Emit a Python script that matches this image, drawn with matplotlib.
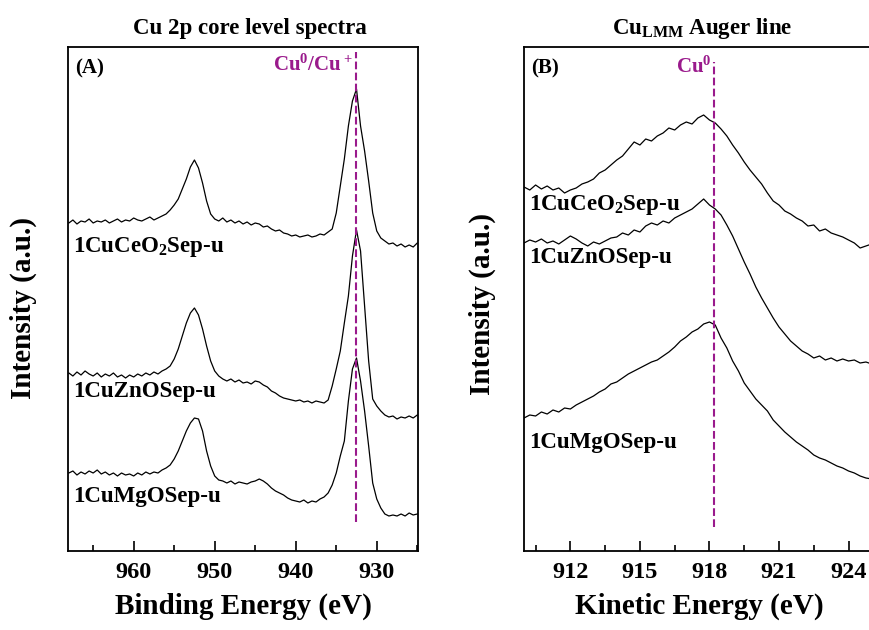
import numpy as np
import matplotlib
matplotlib.use('Agg')
from matplotlib import pyplot as plt
from matplotlib.ticker import MultipleLocator

plt.rcParams['font.family'] = ['Liberation Serif', 'DejaVu Serif']
plt.rcParams['font.weight'] = 'bold'
plt.rcParams['axes.labelweight'] = 'bold'
plt.rcParams['mathtext.default'] = 'regular'

# ---- panel A: Cu 2p, binding energy grid (eV) ----
be = np.arange(968.0, 924.9, -0.5)
cu2p_ceo2 = [328, 331, 327, 330, 329, 332, 328, 330, 329, 331, 328, 330, 332, 329, 331, 330,
             333, 331, 330, 332, 334, 331, 333, 335, 337, 341, 346, 352, 362, 372, 384, 391,
             383, 368, 350, 337, 332, 330, 333, 329, 331, 328, 330, 327, 329, 326, 328, 327,
             324, 325, 322, 320, 321, 318, 317, 315, 316, 314, 315, 316, 314, 315, 317, 316,
             319, 322, 338, 365, 392, 425, 450, 462, 425, 400, 370, 338, 320, 313, 310, 307,
             308, 305, 307, 304, 306, 304, 308]
cu2p_zno = [178, 175, 179, 176, 180, 177, 175, 178, 174, 177, 175, 178, 174, 176, 173, 176,
            174, 177, 175, 178, 176, 179, 177, 180, 182, 185, 192, 202, 215, 228, 238, 243,
            236, 222, 205, 190, 180, 175, 172, 170, 172, 169, 171, 168, 169, 167, 170, 169,
            166, 164, 160, 158, 155, 153, 152, 151, 150, 151, 149, 150, 148, 150, 149, 148,
            151, 165, 182, 200, 228, 255, 295, 321, 300, 245, 190, 152, 145, 140, 136, 134,
            135, 132, 134, 133, 135, 133, 136]
cu2p_mgo = [78, 80, 76, 79, 77, 80, 78, 81, 77, 79, 76, 78, 75, 78, 76, 77,
            75, 78, 76, 79, 77, 79, 78, 81, 83, 86, 92, 100, 110, 120, 128, 133,
            132, 120, 100, 85, 75, 71, 70, 68, 70, 67, 69, 68, 67, 69, 70, 72,
            70, 67, 63, 60, 58, 56, 53, 51, 50, 49, 51, 48, 50, 49, 52, 54,
            58, 66, 78, 95, 110, 150, 182, 193, 170, 140, 105, 68, 52, 43, 37, 35,
            36, 35, 37, 35, 38, 36, 37]

# ---- panel B: Cu LMM, kinetic energy grid (eV) ----
ke = np.arange(910.0, 925.01, 0.25)
lmm_ceo2 = [364, 361, 366, 362, 365, 361, 363, 358, 361, 363, 367, 369, 372, 378, 381, 386,
            391, 395, 402, 409, 406, 412, 410, 415, 418, 423, 421, 426, 429, 427, 433, 436,
            431, 428, 422, 415, 406, 398, 389, 381, 374, 367, 358, 350, 346, 340, 337, 333,
            330, 325, 326, 320, 322, 318, 316, 314, 311, 308, 303, 305, 307]
lmm_zno = [308, 311, 309, 312, 308, 310, 307, 311, 315, 312, 308, 305, 309, 307, 310, 313,
           314, 318, 316, 321, 319, 325, 328, 326, 330, 328, 333, 336, 339, 342, 347, 352,
           346, 342, 336, 326, 315, 302, 289, 277, 264, 253, 243, 233, 224, 217, 210, 205,
           200, 197, 193, 195, 191, 193, 190, 192, 190, 191, 188, 189, 187]
lmm_mgo = [133, 136, 135, 139, 137, 141, 139, 143, 142, 146, 149, 152, 155, 159, 162, 167,
           169, 173, 177, 180, 183, 186, 189, 191, 195, 199, 204, 210, 214, 219, 222, 227,
           229, 226, 213, 203, 190, 180, 168, 160, 152, 146, 140, 131, 125, 119, 114, 109,
           105, 101, 96, 93, 91, 88, 85, 83, 80, 78, 75, 73, 72]

samples = ['1CuCeO$_2$Sep-u', '1CuZnOSep-u', '1CuMgOSep-u']
label_y_a = [304, 159, 54]
label_y_b = [346, 293, 108]
cu0_binding = 932.5
cu0_kinetic = 918.2
purple = '#9a1a8c'

fig = plt.figure(figsize=(8.69, 6.30), dpi=100)
ax1 = fig.add_axes([0.0783, 0.1254, 0.4028, 0.8])
ax2 = fig.add_axes([0.603, 0.1254, 0.4028, 0.8])

for y in (cu2p_ceo2, cu2p_zno, cu2p_mgo):
    ax1.plot(be, y, color='black', linewidth=0.9)
for y in (lmm_ceo2, lmm_zno, lmm_mgo):
    ax2.plot(ke, y, color='black', linewidth=0.9)

for name, ya, yb in zip(samples, label_y_a, label_y_b):
    ax1.text(967.5, ya, name, fontsize=16.5, va='center', ha='left')
    ax2.text(910.2, yb, name, fontsize=16.5, va='center', ha='left')

ax1.axvline(cu0_binding, ymin=0.058, ymax=0.99, color=purple, linestyle='--', linewidth=1.5)
ax2.axvline(cu0_kinetic, ymin=0.048, ymax=0.97, color=purple, linestyle='--', linewidth=1.5)
ax1.text(cu0_binding + 0.4, 486, 'Cu$^0$/Cu$^+$', color=purple, fontsize=15, ha='right', va='center')
ax2.text(cu0_kinetic - 0.1, 484, 'Cu$^0$', color=purple, fontsize=15, ha='right', va='center')

ax1.text(0.02, 0.978, '(A)', transform=ax1.transAxes, fontsize=15, va='top', ha='left')
ax2.text(0.02, 0.978, '(B)', transform=ax2.transAxes, fontsize=15, va='top', ha='left')

ax1.set_xlim(968.1, 924.9)
ax2.set_xlim(910.0, 925.1)
ax1.xaxis.set_major_locator(MultipleLocator(10))
ax1.xaxis.set_minor_locator(MultipleLocator(5))
ax2.xaxis.set_major_locator(MultipleLocator(3))
ax2.xaxis.set_minor_locator(MultipleLocator(1.5))

for ax in (ax1, ax2):
    ax.set_ylim(0, 504)
    ax.set_yticks([])
    ax.tick_params(axis='x', which='major', direction='in', length=7, width=1.2,
                   labelsize=17.5, pad=8)
    ax.tick_params(axis='x', which='minor', direction='in', length=4, width=1.2)
    for s in ax.spines.values():
        s.set_linewidth(1.3)
    ax.set_ylabel('Intensity (a.u.)', fontsize=21)

ax1.yaxis.set_label_coords(-0.09, 0.482)
ax2.yaxis.set_label_coords(-0.08, 0.49)
ax1.set_xlabel('Binding Energy (eV)', fontsize=21, labelpad=7)
ax2.set_xlabel('Kinetic Energy (eV)', fontsize=21, labelpad=7)
fig.text(0.288, 0.955, 'Cu 2p core level spectra', fontsize=16.5, ha='center', va='center')
fig.text(0.808, 0.955, 'Cu$_{LMM}$ Auger line', fontsize=16.5, ha='center', va='center')

plt.savefig('out.png', dpi=100)
